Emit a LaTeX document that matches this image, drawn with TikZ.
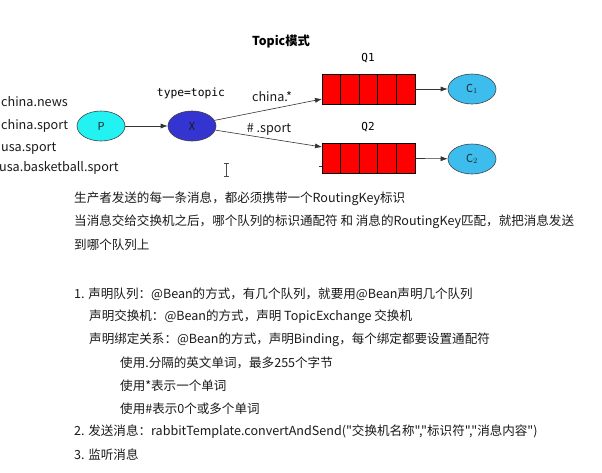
\documentclass[tikz,border=0pt]{standalone}
\usepackage{fontspec}
\setmainfont{Noto Sans CJK SC}[Ligatures=TeXOff]
\newfontfamily\monof{DejaVu Sans Mono}
\usetikzlibrary{shapes.geometric,arrows.meta,calc}
\definecolor{pcyan}{HTML}{22F2F2}
\definecolor{xblue}{HTML}{3434D0}
\definecolor{cblue}{HTML}{3CBDEE}
\definecolor{qred}{HTML}{FF0000}
\definecolor{txt}{HTML}{1A1A1A}
\tikzset{
  elli/.style={ellipse,draw=black!75,line width=0.6pt,minimum width=48pt,minimum height=30pt,inner sep=0pt,font=\fontsize{11}{12}\selectfont,text=black!85},
  queue/.style={rectangle,draw=black,line width=0.6pt,fill=qred,minimum width=93pt,minimum height=30pt,inner sep=0pt},
  arr/.style={-{Latex[length=7pt,width=5pt]},line width=0.6pt,black!80},
  lbl/.style={font=\fontsize{12.6}{13}\selectfont,text=txt,inner sep=0pt},
  body/.style={font=\fontsize{12.55}{13}\selectfont,text=txt,inner sep=0pt,anchor=west},
}
\begin{document}
\begin{tikzpicture}[x=1pt,y=-1pt]
\useasboundingbox[fill=white] (0,0) rectangle (602,472);
\node[font=\bfseries\fontsize{12.3}{13}\selectfont,inner sep=0pt] (title) at (281,41) {Topic模式};
% producer and exchange
\node[elli,fill=pcyan] (P) at (101,126) {P};
\node[elli,fill=xblue,text=black!90] (X) at (192,126) {X};
\node[font=\monof\fontsize{11.3}{12}\selectfont,inner sep=0pt] (type) at (191,93) {type=topic};
% routing keys
\node[lbl,anchor=west] (k1) at (1,102) {china.news};
\node[lbl,anchor=west] (k2) at (1,126) {china.sport};
\node[lbl,anchor=west] (k3) at (1,149) {usa.sport};
\node[lbl,anchor=west] (k4) at (-1,168) {usa.basketball.sport};
% queues
\node[queue] (q1) at (368.5,89) {};
\node[queue] (q2) at (368.5,158) {};
\foreach \q in {q1,q2}{
  \foreach \i in {1,2,3,4}{
    \draw[line width=0.6pt] ($(\q.north west)+(\i*18.6,0)$) -- ($(\q.south west)+(\i*18.6,0)$);
  }
}
\node[font=\monof\fontsize{11}{12}\selectfont,inner sep=0pt] (q1l) at (368,58) {Q1};
\node[font=\monof\fontsize{11}{12}\selectfont,inner sep=0pt] (q2l) at (368,127) {Q2};
% consumers
\node[elli,fill=cblue] (C1) at (472,89) {C$_1$};
\node[elli,fill=cblue] (C2) at (472,159) {C$_2$};
% connectors
\draw[arr] (P) -- (X);
\coordinate (q1in) at (322,99);
\coordinate (q2in) at (322,147);
\draw[arr] (X.14) -- (q1in);
\draw[arr] (X.-10) -- (q2in);
\draw[arr] (q1) -- (C1);
\draw[arr] (q2) -- (C2);
\node[lbl] (b1) at (272,97) {china.*};
\node[lbl] (b2) at (269,129) {\# .sport};
% small marks
\draw[line width=0.8pt,black!80] (319,166) -- (322,166);
\draw[line width=0.7pt,black!70] (226,163) -- (226,176) (223.5,163) -- (228.5,163) (223.5,176) -- (228.5,176);
% text block
\node[body] (t1) at (74,199) {生产者发送的每一条消息，都必须携带一个RoutingKey标识};
\node[body] (t2) at (74,222) {当消息交给交换机之后，哪个队列的标识通配符 和 消息的RoutingKey匹配，就把消息发送};
\node[body] (t3) at (74,245) {到哪个队列上};
\node[body] (t4) at (74,294) {1. 声明队列：@Bean的方式，有几个队列，就要用@Bean声明几个队列};
\node[body] (t5) at (89,317) {声明交换机：@Bean的方式，声明 TopicExchange 交换机};
\node[body] (t6) at (89,340) {声明绑定关系：@Bean的方式，声明Binding，每个绑定都要设置通配符};
\node[body] (t7) at (120,363) {使用.分隔的英文单词，最多255个字节};
\node[body] (t8) at (120,386) {使用*表示一个单词};
\node[body] (t9) at (120,409) {使用\#表示0个或多个单词};
\node[body] (t10) at (74,432) {2. 发送消息：rabbitTemplate.convertAndSend("交换机名称","标识符","消息内容")};
\node[body] (t11) at (74,455) {3. 监听消息};
\end{tikzpicture}
\end{document}
